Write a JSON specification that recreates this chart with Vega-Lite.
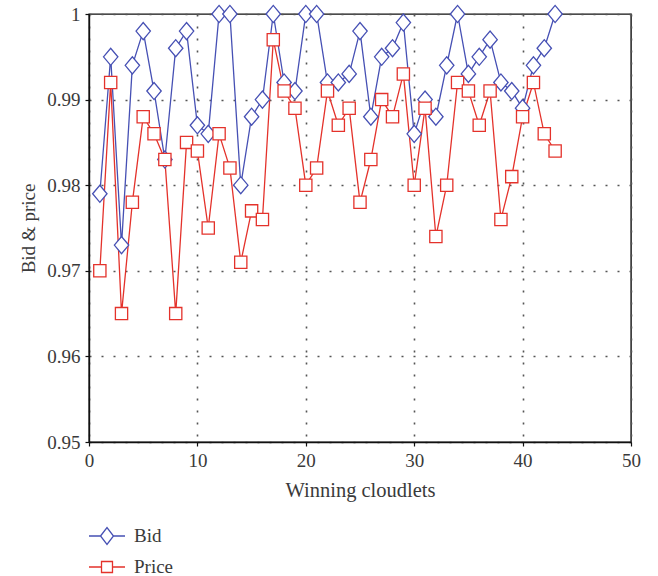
{
  "$schema": "https://vega.github.io/schema/vega-lite/v6.json",
  "width": 542,
  "height": 428,
  "autosize": {"type": "none"},
  "padding": {"left": 89, "top": 14, "right": 27, "bottom": 134},
  "background": "white",
  "config": {
    "font": "Liberation Serif",
    "view": {"stroke": "#111", "strokeWidth": 1.4},
    "axis": {
      "labelFont": "Liberation Serif",
      "titleFont": "Liberation Serif",
      "labelFontSize": 19,
      "titleFontSize": 19,
      "titleFontWeight": "normal",
      "labelColor": "#3a3a3a",
      "titleColor": "#3a3a3a",
      "domainColor": "#111",
      "domainWidth": 1.4,
      "tickColor": "#111",
      "tickWidth": 1.2,
      "tickSize": 4,
      "labelPadding": 5,
      "gridColor": "#555",
      "gridDash": [2, 10],
      "gridWidth": 1.6,
      "gridOpacity": 1
    },
    "legend": {
      "labelFont": "Liberation Serif",
      "labelFontSize": 19,
      "labelColor": "#3a3a3a"
    }
  },
  "data": {
    "values": [
      {"x": 1, "series": "Bid", "value": 0.979},
      {"x": 2, "series": "Bid", "value": 0.995},
      {"x": 3, "series": "Bid", "value": 0.973},
      {"x": 4, "series": "Bid", "value": 0.994},
      {"x": 5, "series": "Bid", "value": 0.998},
      {"x": 6, "series": "Bid", "value": 0.991},
      {"x": 7, "series": "Bid", "value": 0.983},
      {"x": 8, "series": "Bid", "value": 0.996},
      {"x": 9, "series": "Bid", "value": 0.998},
      {"x": 10, "series": "Bid", "value": 0.987},
      {"x": 11, "series": "Bid", "value": 0.986},
      {"x": 12, "series": "Bid", "value": 1.0},
      {"x": 13, "series": "Bid", "value": 1.0},
      {"x": 14, "series": "Bid", "value": 0.980},
      {"x": 15, "series": "Bid", "value": 0.988},
      {"x": 16, "series": "Bid", "value": 0.990},
      {"x": 17, "series": "Bid", "value": 1.0},
      {"x": 18, "series": "Bid", "value": 0.992},
      {"x": 19, "series": "Bid", "value": 0.991},
      {"x": 20, "series": "Bid", "value": 1.0},
      {"x": 21, "series": "Bid", "value": 1.0},
      {"x": 22, "series": "Bid", "value": 0.992},
      {"x": 23, "series": "Bid", "value": 0.992},
      {"x": 24, "series": "Bid", "value": 0.993},
      {"x": 25, "series": "Bid", "value": 0.998},
      {"x": 26, "series": "Bid", "value": 0.988},
      {"x": 27, "series": "Bid", "value": 0.995},
      {"x": 28, "series": "Bid", "value": 0.996},
      {"x": 29, "series": "Bid", "value": 0.999},
      {"x": 30, "series": "Bid", "value": 0.986},
      {"x": 31, "series": "Bid", "value": 0.990},
      {"x": 32, "series": "Bid", "value": 0.988},
      {"x": 33, "series": "Bid", "value": 0.994},
      {"x": 34, "series": "Bid", "value": 1.0},
      {"x": 35, "series": "Bid", "value": 0.993},
      {"x": 36, "series": "Bid", "value": 0.995},
      {"x": 37, "series": "Bid", "value": 0.997},
      {"x": 38, "series": "Bid", "value": 0.992},
      {"x": 39, "series": "Bid", "value": 0.991},
      {"x": 40, "series": "Bid", "value": 0.989},
      {"x": 41, "series": "Bid", "value": 0.994},
      {"x": 42, "series": "Bid", "value": 0.996},
      {"x": 43, "series": "Bid", "value": 1.0},
      {"x": 1, "series": "Price", "value": 0.970},
      {"x": 2, "series": "Price", "value": 0.992},
      {"x": 3, "series": "Price", "value": 0.965},
      {"x": 4, "series": "Price", "value": 0.978},
      {"x": 5, "series": "Price", "value": 0.988},
      {"x": 6, "series": "Price", "value": 0.986},
      {"x": 7, "series": "Price", "value": 0.983},
      {"x": 8, "series": "Price", "value": 0.965},
      {"x": 9, "series": "Price", "value": 0.985},
      {"x": 10, "series": "Price", "value": 0.984},
      {"x": 11, "series": "Price", "value": 0.975},
      {"x": 12, "series": "Price", "value": 0.986},
      {"x": 13, "series": "Price", "value": 0.982},
      {"x": 14, "series": "Price", "value": 0.971},
      {"x": 15, "series": "Price", "value": 0.977},
      {"x": 16, "series": "Price", "value": 0.976},
      {"x": 17, "series": "Price", "value": 0.997},
      {"x": 18, "series": "Price", "value": 0.991},
      {"x": 19, "series": "Price", "value": 0.989},
      {"x": 20, "series": "Price", "value": 0.980},
      {"x": 21, "series": "Price", "value": 0.982},
      {"x": 22, "series": "Price", "value": 0.991},
      {"x": 23, "series": "Price", "value": 0.987},
      {"x": 24, "series": "Price", "value": 0.989},
      {"x": 25, "series": "Price", "value": 0.978},
      {"x": 26, "series": "Price", "value": 0.983},
      {"x": 27, "series": "Price", "value": 0.990},
      {"x": 28, "series": "Price", "value": 0.988},
      {"x": 29, "series": "Price", "value": 0.993},
      {"x": 30, "series": "Price", "value": 0.980},
      {"x": 31, "series": "Price", "value": 0.989},
      {"x": 32, "series": "Price", "value": 0.974},
      {"x": 33, "series": "Price", "value": 0.980},
      {"x": 34, "series": "Price", "value": 0.992},
      {"x": 35, "series": "Price", "value": 0.991},
      {"x": 36, "series": "Price", "value": 0.987},
      {"x": 37, "series": "Price", "value": 0.991},
      {"x": 38, "series": "Price", "value": 0.976},
      {"x": 39, "series": "Price", "value": 0.981},
      {"x": 40, "series": "Price", "value": 0.988},
      {"x": 41, "series": "Price", "value": 0.992},
      {"x": 42, "series": "Price", "value": 0.986},
      {"x": 43, "series": "Price", "value": 0.984}
    ]
  },
  "encoding": {
    "x": {
      "field": "x",
      "type": "quantitative",
      "title": "Winning cloudlets",
      "scale": {"domain": [0, 50], "nice": false, "zero": false},
      "axis": {"values": [0, 10, 20, 30, 40, 50], "titlePadding": 10, "titleFontSize": 20.5, "labelFlush": false}
    },
    "y": {
      "field": "value",
      "type": "quantitative",
      "title": "Bid & price",
      "scale": {"domain": [0.95, 1], "nice": false, "zero": false},
      "axis": {"values": [0.95, 0.96, 0.97, 0.98, 0.99, 1], "format": ".2~f", "titlePadding": 8, "labelFlush": false}
    }
  },
  "layer": [
    {
      "mark": {"type": "line", "strokeWidth": 1.3},
      "encoding": {
        "color": {
          "field": "series",
          "type": "nominal",
          "scale": {"domain": ["Bid", "Price"], "range": ["#4650b4", "#e4322b"]},
          "legend": {
            "orient": "none",
            "legendX": 8,
            "legendY": 512,
            "direction": "vertical",
            "title": null,
            "padding": 0,
            "symbolSize": 324,
            "symbolStrokeWidth": 1.3,
            "rowPadding": 9,
            "labelOffset": 17,
            "encode": {
              "symbols": {
                "update": {
                  "shape": {"signal": "datum.value === 'Bid' ? 'M-2,0L-0.72,0M0.72,0L2,0M-0.72,0L0,-0.94L0.72,0L0,0.94Z' : 'M-2,0L-0.61,0M0.61,0L2,0M-0.61,-0.61L0.61,-0.61L0.61,0.61L-0.61,0.61Z'"},
                  "fill": {"value": "white"}
                }
              }
            }
          }
        }
      }
    },
    {
      "transform": [{"filter": "datum.series === 'Bid'"}],
      "mark": {"type": "point", "shape": "M-0.8,0L0,-0.95L0.8,0L0,0.95Z", "filled": false, "fill": "white", "fillOpacity": 1, "stroke": "#4650b4", "strokeWidth": 1.3, "size": 324, "opacity": 1}
    },
    {
      "transform": [{"filter": "datum.series === 'Price'"}],
      "mark": {"type": "point", "shape": "M-0.68,-0.68L0.68,-0.68L0.68,0.68L-0.68,0.68Z", "filled": false, "fill": "white", "fillOpacity": 1, "stroke": "#e4322b", "strokeWidth": 1.3, "size": 324, "opacity": 1}
    }
  ]
}
